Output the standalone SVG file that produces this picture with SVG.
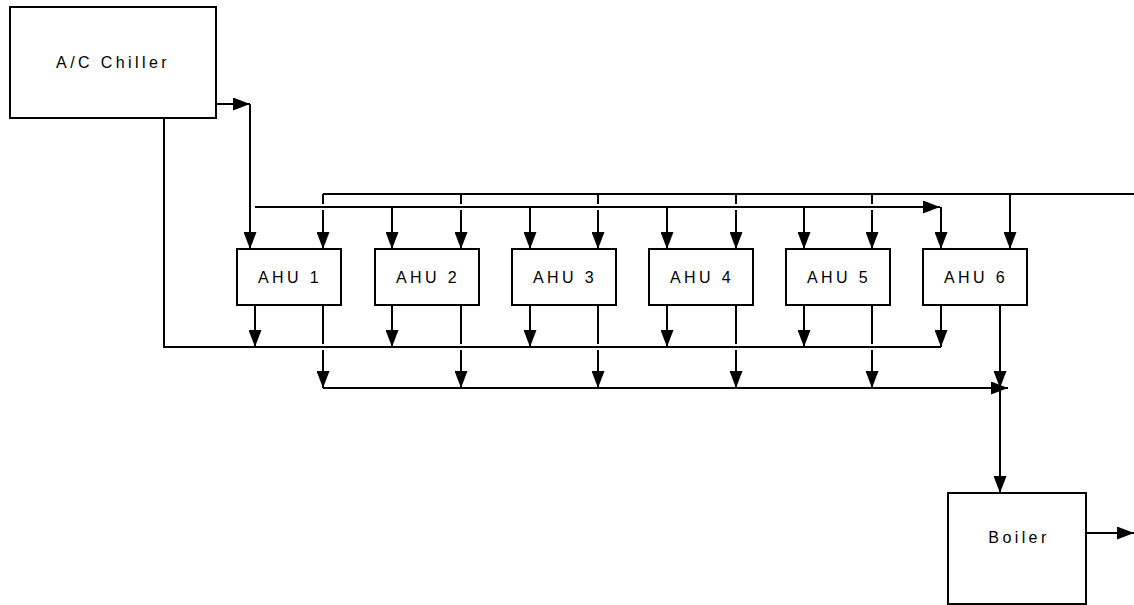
<svg xmlns="http://www.w3.org/2000/svg" width="1134" height="605" viewBox="0 0 1134 605">
  <style>
    .box { fill: #ffffff; stroke: #000000; stroke-width: 2; }
    .lbl { font-family: "Liberation Sans", Arial, sans-serif; font-size: 16px; letter-spacing: 3.4px; fill: #000000; text-anchor: middle; }
    .ln { fill: none; stroke: #000000; stroke-width: 2; }
    .arr { marker-end: url(#head); }
  </style>
  <defs>
    <marker id="head" markerUnits="userSpaceOnUse" viewBox="0 0 17 13" markerWidth="17" markerHeight="13" refX="17" refY="6.5" orient="auto">
      <path d="M0,0 L17,6.5 L0,13 Z" fill="#000000"/>
    </marker>
  </defs>

  <rect width="1134" height="605" fill="#ffffff"/>

  <!-- connectors -->
  <g id="connectors">
    <!-- chiller supply to AHU 1 and header -->
    <path class="ln arr" d="M216,104 H250"/>
    <path class="ln arr" d="M250,104 V249"/>
    <!-- chiller return line -->
    <path class="ln" d="M164,118 V347 H941"/>

    <!-- header at y=194 -->
    <path class="ln" d="M323,194 H1134"/>
    <!-- header at y=207 -->
    <path class="ln arr" d="M255,207 H940"/>
    <path class="ln arr" d="M941,207 V249"/>

    <!-- drops from y=194 header (break over y=207 header) -->
    <path class="ln" d="M323,194 V204"/><path class="ln arr" d="M323,210 V249"/>
    <path class="ln" d="M461,194 V204"/><path class="ln arr" d="M461,210 V249"/>
    <path class="ln" d="M598,194 V204"/><path class="ln arr" d="M598,210 V249"/>
    <path class="ln" d="M736,194 V204"/><path class="ln arr" d="M736,210 V249"/>
    <path class="ln" d="M872,194 V204"/><path class="ln arr" d="M872,210 V249"/>
    <path class="ln arr" d="M1010,194 V249"/>

    <!-- drops from y=207 header -->
    <path class="ln arr" d="M392,207 V249"/>
    <path class="ln arr" d="M530,207 V249"/>
    <path class="ln arr" d="M667,207 V249"/>
    <path class="ln arr" d="M804,207 V249"/>

    <!-- left outlets to return line -->
    <path class="ln arr" d="M255,305 V347"/>
    <path class="ln arr" d="M392,305 V347"/>
    <path class="ln arr" d="M530,305 V347"/>
    <path class="ln arr" d="M667,305 V347"/>
    <path class="ln arr" d="M804,305 V347"/>
    <path class="ln arr" d="M941,305 V347"/>

    <!-- right outlets to lower collector (break over y=347 line) -->
    <path class="ln" d="M323,305 V344"/><path class="ln arr" d="M323,350 V388"/>
    <path class="ln" d="M461,305 V344"/><path class="ln arr" d="M461,350 V388"/>
    <path class="ln" d="M598,305 V344"/><path class="ln arr" d="M598,350 V388"/>
    <path class="ln" d="M736,305 V344"/><path class="ln arr" d="M736,350 V388"/>
    <path class="ln" d="M872,305 V344"/><path class="ln arr" d="M872,350 V388"/>

    <!-- lower collector -->
    <path class="ln arr" d="M323,388 H1008"/>
    <path class="ln arr" d="M1000,305 V388"/>
    <path class="ln arr" d="M1000,388 V493"/>

    <!-- boiler outlet -->
    <path class="ln arr" d="M1086,533 H1134"/>
  </g>

  <!-- nodes -->
  <g id="chiller">
    <rect class="box" x="10" y="7" width="206" height="111"/>
    <text class="lbl" x="113" y="68">A/C Chiller</text>
  </g>
  <g id="ahu1">
    <rect class="box" x="237" y="249" width="104" height="56"/>
    <text class="lbl" x="290" y="283">AHU 1</text>
  </g>
  <g id="ahu2">
    <rect class="box" x="375" y="249" width="104" height="56"/>
    <text class="lbl" x="428" y="283">AHU 2</text>
  </g>
  <g id="ahu3">
    <rect class="box" x="512" y="249" width="104" height="56"/>
    <text class="lbl" x="565" y="283">AHU 3</text>
  </g>
  <g id="ahu4">
    <rect class="box" x="649" y="249" width="104" height="56"/>
    <text class="lbl" x="702" y="283">AHU 4</text>
  </g>
  <g id="ahu5">
    <rect class="box" x="786" y="249" width="104" height="56"/>
    <text class="lbl" x="839" y="283">AHU 5</text>
  </g>
  <g id="ahu6">
    <rect class="box" x="923" y="249" width="104" height="56"/>
    <text class="lbl" x="976" y="283">AHU 6</text>
  </g>
  <g id="boiler">
    <rect class="box" x="948" y="493" width="138" height="111"/>
    <text class="lbl" x="1019" y="543">Boiler</text>
  </g>
</svg>
